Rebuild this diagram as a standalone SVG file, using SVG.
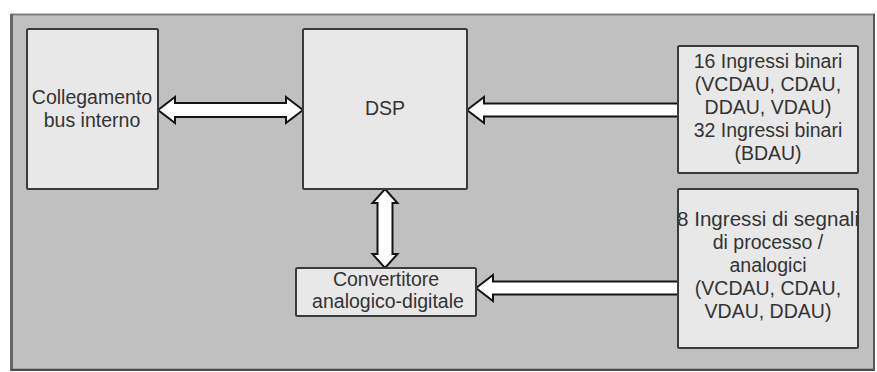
<svg xmlns="http://www.w3.org/2000/svg" width="877" height="372" viewBox="0 0 877 372">
  <style>
    .box { fill: #e8e8e8; stroke: #3a3a3a; stroke-width: 2; }
    .arrow { fill: #ffffff; stroke: #141414; stroke-width: 2; stroke-linejoin: miter; }
    .lbl { font-family: "Liberation Sans", Arial, sans-serif; font-size: 19.5px; fill: #333333; text-anchor: middle; }
  </style>
  <defs>
    <clipPath id="clipAnalog">
      <rect x="679" y="190" width="178" height="157"/>
    </clipPath>
  </defs>

  <!-- background panel -->
  <rect x="0" y="0" width="877" height="372" fill="#ffffff"/>
  <rect x="12" y="14.5" width="862" height="355" fill="#c0c0c0" stroke="#808080" stroke-width="2"/>
  <line x1="11.5" y1="14" x2="11.5" y2="371" stroke="#666666" stroke-width="3"/>
  <line x1="11" y1="370" x2="875" y2="370" stroke="#4a4a4a" stroke-width="2"/>
  <line x1="874" y1="14" x2="874" y2="371" stroke="#5a5a5a" stroke-width="2"/>

  <!-- connectors -->
  <g id="connectors">
    <polygon class="arrow" points="158,110 175,97 175,103 286,103 286,97 303,110 286,123 286,117 175,117 175,123"/>
    <polygon class="arrow" points="467,110 484,97 484,103.5 678,103.5 678,116.5 484,116.5 484,123"/>
    <polygon class="arrow" points="385,189 397.5,203 392.5,203 392.5,254 397.5,254 385,268 372.5,254 377.5,254 377.5,203 372.5,203"/>
    <polygon class="arrow" points="476,288 493,275 493,281.5 678,281.5 678,294.5 493,294.5 493,301"/>
  </g>

  <g id="bus">
    <rect class="box" x="27" y="29" width="131" height="160" rx="1.5"/>
    <text class="lbl" x="92" y="104">Collegamento</text>
    <text class="lbl" x="92" y="127">bus interno</text>
  </g>

  <g id="dsp">
    <rect class="box" x="303" y="29" width="164" height="160" rx="1.5"/>
    <text class="lbl" x="385" y="115">DSP</text>
  </g>

  <g id="binary-inputs">
    <rect class="box" x="678" y="46" width="180" height="127" rx="1.5"/>
    <text class="lbl" x="768" y="68">16 Ingressi binari</text>
    <text class="lbl" x="768" y="91">(VCDAU, CDAU,</text>
    <text class="lbl" x="768" y="114">DDAU, VDAU)</text>
    <text class="lbl" x="768" y="137">32 Ingressi binari</text>
    <text class="lbl" x="768" y="160">(BDAU)</text>
  </g>

  <g id="analog-inputs">
    <rect class="box" x="678" y="189" width="180" height="159" rx="1.5"/>
    <g clip-path="url(#clipAnalog)">
      <text class="lbl" x="768" y="226" textLength="182" lengthAdjust="spacingAndGlyphs">8 Ingressi di segnali</text>
    </g>
    <text class="lbl" x="768" y="249">di processo /</text>
    <text class="lbl" x="768" y="272">analogici</text>
    <text class="lbl" x="768" y="295">(VCDAU, CDAU,</text>
    <text class="lbl" x="768" y="318">VDAU, DDAU)</text>
  </g>

  <g id="adc">
    <rect class="box" x="296" y="268" width="180" height="48" rx="1.5"/>
    <text class="lbl" x="386" y="286">Convertitore</text>
    <text class="lbl" x="388" y="308">analogico-digitale</text>
  </g>
</svg>
